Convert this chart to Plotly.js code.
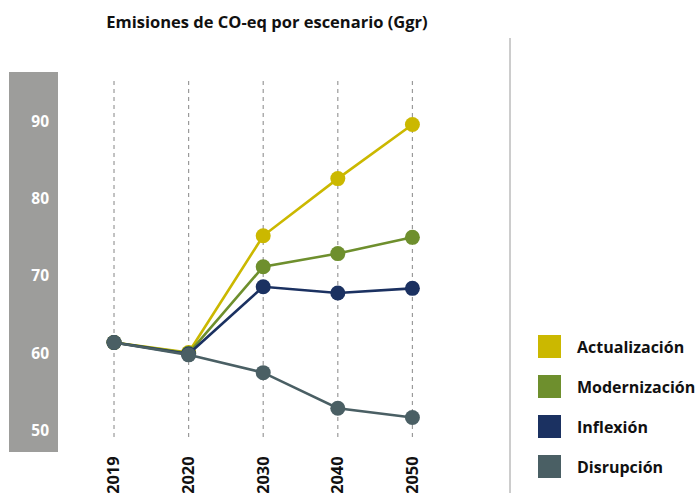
<!DOCTYPE html>
<html>
<head>
<meta charset="utf-8">
<script src="https://cdn.plot.ly/plotly-3.0.1.min.js"></script>
<style>html,body{margin:0;padding:0;background:#fff;}#chart{width:696px;height:493px;}</style>
</head>
<body>
<div id="chart"></div>
<script>
var years = ['2019', '2020', '2030', '2040', '2050'];
var seriesNames = ['Actualización', 'Modernización', 'Inflexión', 'Disrupción'];
var actualizacion = [61.4, 60.1, 75.2, 82.6, 89.6];
var modernizacion = [61.4, 60.0, 71.2, 72.9, 75.0];
var inflexion = [61.4, 59.9, 68.6, 67.8, 68.4];
var disrupcion = [61.4, 59.8, 57.5, 52.9, 51.7];
var yTicks = [50, 60, 70, 80, 90];
var colors = ['#CBB800', '#6E8F2D', '#1B3161', '#4A5F64'];
var allSeries = [actualizacion, modernizacion, inflexion, disrupcion];

var W = 696, H = 493, L = 60, R = 206, T = 72, B = 41;
var PW = W - L - R, PH = H - T - B;
function px(x) { return (x - L) / PW; }
function py(y) { return (H - B - y) / PH; }

var FONT = '"Open Sans", Roboto, "DejaVu Sans", sans-serif';

var traces = allSeries.map(function (vals, i) {
  return {
    type: 'scatter', mode: 'lines+markers',
    x: years, y: vals, name: seriesNames[i],
    line: {color: colors[i], width: 2.6},
    marker: {color: colors[i], size: 15},
    hoverinfo: 'x+y+name'
  };
});

var shapes = [];
shapes.push({type: 'rect', xref: 'paper', yref: 'paper', x0: px(9), x1: px(58), y0: py(452), y1: py(72),
  fillcolor: '#9D9D9B', line: {width: 0}, layer: 'below'});
years.forEach(function (yr, i) {
  shapes.push({type: 'line', xref: 'x', yref: 'paper', x0: i, x1: i, y0: py(437), y1: py(80),
    line: {color: '#9a9a9a', width: 1.2, dash: '4px,4px'}, layer: 'below'});
});
shapes.push({type: 'line', xref: 'paper', yref: 'paper', x0: px(510), x1: px(510), y0: py(493), y1: py(38),
  line: {color: '#9a9a9a', width: 1}});

var annotations = [];
seriesNames.forEach(function (n, i) {
  var top = 335 + i * 40;
  shapes.push({type: 'rect', xref: 'paper', yref: 'paper', x0: px(538), x1: px(561), y0: py(top + 23), y1: py(top),
    fillcolor: colors[i], line: {width: 0}});
  annotations.push({xref: 'paper', yref: 'paper', x: px(575), y: py(top + 11.5), xanchor: 'left', yanchor: 'middle',
    text: '<b>' + n + '</b>', showarrow: false, font: {family: FONT, size: 16, color: '#111'}});
});

var layout = {
  width: W, height: H,
  margin: {l: L, r: R, t: T, b: B, pad: 0},
  paper_bgcolor: '#fff', plot_bgcolor: 'rgba(0,0,0,0)',
  showlegend: false,
  font: {family: FONT},
  title: {text: '<b>Emisiones de CO-eq por escenario (Ggr)</b>', xref: 'container', yref: 'container',
    x: 267 / W, xanchor: 'center', y: 1 - 22 / H, yanchor: 'middle',
    font: {family: FONT, size: 16.5, color: '#111'}},
  xaxis: {type: 'category', range: [-0.724, -0.724 + PW / 74.6], showgrid: false, zeroline: false,
    showline: false, ticks: '', tickangle: -90, tickfont: {family: FONT, size: 16.5, color: '#111', weight: 700},
    fixedrange: true},
  yaxis: {range: [60 - 98.7 / 7.73, 60 + 281.3 / 7.73], tickvals: yTicks, ticktext: yTicks.map(String),
    showgrid: false, zeroline: false, showline: false, ticks: '', ticklabelstandoff: 10,
    tickfont: {family: FONT, size: 15.5, color: '#ffffff', weight: 700}, fixedrange: true},
  shapes: shapes,
  annotations: annotations
};

Plotly.newPlot('chart', traces, layout, {displayModeBar: false, staticPlot: true});
</script>
</body>
</html>
